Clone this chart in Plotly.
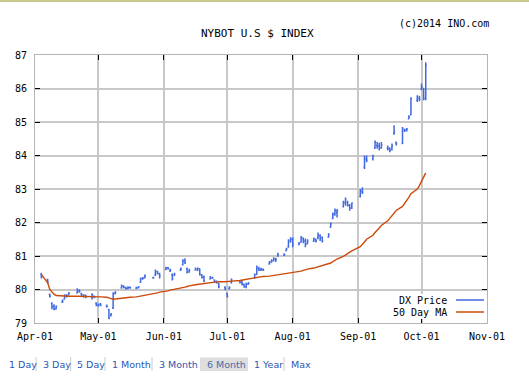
import plotly.graph_objects as go

# ---------------- data ----------------
dates = [
    # April 2014
    "2014-04-04", "2014-04-07", "2014-04-08", "2014-04-09", "2014-04-10", "2014-04-11",
    "2014-04-14", "2014-04-15", "2014-04-16", "2014-04-17", "2014-04-21", "2014-04-22",
    "2014-04-23", "2014-04-24", "2014-04-25", "2014-04-28", "2014-04-29", "2014-04-30",
    # May
    "2014-05-01", "2014-05-02", "2014-05-05", "2014-05-06", "2014-05-07", "2014-05-08",
    "2014-05-09", "2014-05-12", "2014-05-13", "2014-05-14", "2014-05-15", "2014-05-16",
    "2014-05-19", "2014-05-20", "2014-05-21", "2014-05-22", "2014-05-23", "2014-05-27",
    "2014-05-28", "2014-05-29", "2014-05-30",
    # June
    "2014-06-02", "2014-06-03", "2014-06-04", "2014-06-05", "2014-06-06", "2014-06-09",
    "2014-06-10", "2014-06-11", "2014-06-12", "2014-06-13", "2014-06-16", "2014-06-17",
    "2014-06-18", "2014-06-19", "2014-06-20", "2014-06-23", "2014-06-24", "2014-06-25",
    "2014-06-26", "2014-06-27", "2014-06-30",
    # July
    "2014-07-01", "2014-07-02", "2014-07-03", "2014-07-07", "2014-07-08", "2014-07-09",
    "2014-07-10", "2014-07-11", "2014-07-14", "2014-07-15", "2014-07-16", "2014-07-17",
    "2014-07-18", "2014-07-21", "2014-07-22", "2014-07-23", "2014-07-24", "2014-07-25",
    "2014-07-28", "2014-07-29", "2014-07-30", "2014-07-31",
    # August
    "2014-08-01", "2014-08-04", "2014-08-05", "2014-08-06", "2014-08-07", "2014-08-08",
    "2014-08-11", "2014-08-12", "2014-08-13", "2014-08-14", "2014-08-15", "2014-08-18",
    "2014-08-19", "2014-08-20", "2014-08-21", "2014-08-22", "2014-08-25", "2014-08-26",
    "2014-08-27", "2014-08-28", "2014-08-29",
    # September
    "2014-09-02", "2014-09-03", "2014-09-04", "2014-09-05", "2014-09-08", "2014-09-09",
    "2014-09-10", "2014-09-11", "2014-09-12", "2014-09-15", "2014-09-16", "2014-09-17",
    "2014-09-18", "2014-09-19", "2014-09-22", "2014-09-23", "2014-09-24", "2014-09-25",
    "2014-09-26", "2014-09-29", "2014-09-30",
    # October
    "2014-10-01", "2014-10-02", "2014-10-03",
]

opens = [
    80.45, 80.30, 79.85, 79.58, 79.50, 79.42, 79.62, 79.72, 79.80, 79.84, 79.90, 79.96,
    79.88, 79.80, 79.82, 79.76, 79.80, 79.60,
    79.52, 79.55, 79.50, 79.40, 79.22, 79.45, 79.88, 80.05, 80.10, 80.04, 80.03, 80.06,
    80.04, 80.05, 80.22, 80.32, 80.36, 80.34, 80.44, 80.52, 80.46,
    80.60, 80.64, 80.56, 80.45, 80.42, 80.58, 80.74, 80.86, 80.62, 80.52, 80.58, 80.58,
    80.62, 80.43, 80.38, 80.32, 80.34, 80.28, 80.24, 80.18, 80.06,
    79.88, 80.02, 80.20, 80.26, 80.22, 80.16, 80.08, 80.16, 80.34, 80.45, 80.62, 80.58,
    80.60, 80.76, 80.82, 80.86, 80.88, 81.00, 81.02, 81.16, 81.28, 81.42,
    81.50, 81.34, 81.42, 81.52, 81.45, 81.36, 81.44, 81.48, 81.55, 81.60, 81.55, 81.56,
    81.86, 82.12, 82.25, 82.30, 82.48, 82.58, 82.60, 82.50, 82.45,
    82.78, 82.92, 83.65, 83.88, 83.90, 84.22, 84.30, 84.28, 84.24, 84.22, 84.20, 84.18,
    84.66, 84.38, 84.36, 84.74, 84.76, 85.10, 85.22, 85.65, 85.70,
    85.98, 86.00, 85.70,
]

highs = [
    80.50, 80.32, 79.88, 79.62, 79.56, 79.52, 79.70, 79.86, 79.86, 79.92, 80.04, 80.01,
    79.90, 79.86, 79.85, 79.89, 79.82, 79.62,
    79.58, 79.60, 79.55, 79.42, 79.30, 79.92, 79.95, 80.15, 80.13, 80.08, 80.10, 80.09,
    80.08, 80.10, 80.36, 80.37, 80.45, 80.38, 80.60, 80.56, 80.50,
    80.68, 80.67, 80.62, 80.48, 80.50, 80.66, 80.90, 80.93, 80.66, 80.62, 80.66, 80.66,
    80.63, 80.46, 80.42, 80.40, 80.38, 80.30, 80.27, 80.20, 80.10,
    79.90, 80.10, 80.33, 80.28, 80.27, 80.18, 80.20, 80.22, 80.48, 80.72, 80.68, 80.65,
    80.63, 80.85, 80.90, 80.96, 80.95, 81.10, 81.08, 81.25, 81.50, 81.56,
    81.56, 81.42, 81.60, 81.55, 81.52, 81.50, 81.55, 81.52, 81.70, 81.65, 81.58, 81.68,
    82.00, 82.30, 82.42, 82.40, 82.65, 82.75, 82.65, 82.55, 82.60,
    83.00, 83.05, 84.00, 84.00, 84.02, 84.45, 84.40, 84.38, 84.40, 84.30, 84.25, 84.36,
    84.90, 84.42, 84.85, 84.80, 84.82, 85.20, 85.74, 85.80, 85.78,
    86.15, 86.02, 86.78,
]

lows = [
    80.33, 80.18, 79.76, 79.41, 79.38, 79.40, 79.60, 79.70, 79.76, 79.82, 79.88, 79.90,
    79.80, 79.76, 79.74, 79.70, 79.74, 79.50,
    79.49, 79.50, 79.46, 79.11, 79.20, 79.42, 79.85, 80.02, 80.04, 80.00, 80.01, 80.02,
    80.01, 80.03, 80.20, 80.29, 80.33, 80.32, 80.40, 80.45, 80.33,
    80.58, 80.60, 80.52, 80.27, 80.40, 80.55, 80.72, 80.76, 80.48, 80.50, 80.57, 80.55,
    80.42, 80.33, 80.22, 80.30, 80.32, 80.20, 80.18, 80.04, 79.98,
    79.76, 80.00, 80.18, 80.18, 80.12, 80.05, 80.04, 80.14, 80.32, 80.44, 80.55, 80.55,
    80.55, 80.75, 80.80, 80.84, 80.82, 80.98, 81.00, 81.15, 81.25, 81.40,
    81.26, 81.32, 81.40, 81.38, 81.26, 81.35, 81.42, 81.40, 81.50, 81.45, 81.40, 81.55,
    81.85, 82.10, 82.20, 82.15, 82.45, 82.50, 82.48, 82.35, 82.40,
    82.75, 82.85, 83.60, 83.80, 83.85, 84.20, 84.20, 84.15, 84.20, 84.15, 84.10, 84.15,
    84.62, 84.30, 84.34, 84.70, 84.72, 85.08, 85.20, 85.60, 85.62,
    85.95, 85.65, 85.65,
]

closes = [
    80.38, 80.22, 79.80, 79.47, 79.42, 79.50, 79.66, 79.80, 79.82, 79.90, 79.96, 79.94,
    79.84, 79.82, 79.78, 79.84, 79.77, 79.52,
    79.55, 79.53, 79.49, 79.15, 79.26, 79.88, 79.92, 80.10, 80.06, 80.03, 80.06, 80.05,
    80.05, 80.08, 80.32, 80.34, 80.42, 80.36, 80.55, 80.48, 80.40,
    80.64, 80.62, 80.58, 80.32, 80.46, 80.62, 80.86, 80.80, 80.52, 80.58, 80.62, 80.63,
    80.45, 80.36, 80.26, 80.35, 80.34, 80.24, 80.22, 80.08, 80.02,
    79.80, 80.06, 80.28, 80.22, 80.16, 80.08, 80.16, 80.20, 80.45, 80.64, 80.60, 80.61,
    80.58, 80.80, 80.86, 80.92, 80.90, 81.05, 81.04, 81.22, 81.45, 81.50,
    81.35, 81.38, 81.55, 81.45, 81.35, 81.44, 81.50, 81.45, 81.62, 81.55, 81.45, 81.64,
    81.96, 82.25, 82.36, 82.35, 82.60, 82.68, 82.52, 82.42, 82.58,
    82.95, 82.90, 83.92, 83.86, 83.98, 84.40, 84.28, 84.22, 84.32, 84.20, 84.15, 84.30,
    84.70, 84.35, 84.80, 84.76, 84.78, 85.16, 85.70, 85.72, 85.68,
    86.05, 85.70, 86.70,
]

ma50 = [
    80.45, 80.20, 80.00, 79.92, 79.86, 79.82, 79.80, 79.80, 79.80, 79.80, 79.80, 79.80,
    79.80, 79.80, 79.80, 79.80, 79.80, 79.79,
    79.79, 79.78, 79.77, 79.76, 79.73, 79.71, 79.72, 79.74, 79.74, 79.75, 79.76, 79.77,
    79.78, 79.79, 79.81, 79.82, 79.83, 79.86, 79.88, 79.90, 79.92,
    79.94, 79.96, 79.98, 79.99, 80.01, 80.03, 80.05, 80.07, 80.09, 80.11, 80.14, 80.15,
    80.17, 80.18, 80.19, 80.20, 80.21, 80.22, 80.22, 80.23, 80.23,
    80.24, 80.24, 80.25, 80.27, 80.28, 80.30, 80.32, 80.33, 80.35, 80.36, 80.37, 80.38,
    80.39, 80.40, 80.41, 80.42, 80.43, 80.44, 80.45, 80.46, 80.47, 80.49,
    80.50, 80.53, 80.55, 80.57, 80.59, 80.61, 80.64, 80.66, 80.68, 80.70, 80.72, 80.76,
    80.79, 80.83, 80.87, 80.91, 80.99, 81.03, 81.07, 81.11, 81.15,
    81.28, 81.34, 81.42, 81.50, 81.62, 81.70, 81.77, 81.84, 81.91, 82.05, 82.12, 82.20,
    82.28, 82.36, 82.48, 82.56, 82.65, 82.75, 82.86, 83.00, 83.10,
    83.24, 83.36, 83.48,
]

title_text = "NYBOT U.S $ INDEX"
credit_text = "(c)2014 INO.com"
legend_names = ["DX Price", "50 Day MA"]
buttons = ["1 Day", "3 Day", "5 Day", "1 Month", "3 Month", "6 Month", "1 Year", "Max"]
active_button = "6 Month"
y_range = [79, 87]
x_range = ["2014-04-01", "2014-11-01"]

# ---------------- layout geometry / styles ----------------
W, H = 529, 379
ML, MR, MT, MB = 35, 42, 55, 56
PW = W - ML - MR
PH = H - MT - MB


def px(x):
    return (x - ML) / PW


def py(y):
    return (H - MB - y) / PH


BLUE = "#4169e1"
ORANGE = "#cc4a0a"
GRID = "#c8c8c8"
AXLINE = "#b4b4b4"
MONO = "DejaVu Sans Mono"
SANS = "DejaVu Sans"
BTN = "#2b56b3"

fig = go.Figure()
fig.add_trace(go.Ohlc(
    x=dates, open=opens, high=highs, low=lows, close=closes,
    increasing=dict(line=dict(color=BLUE, width=1.5)),
    decreasing=dict(line=dict(color=BLUE, width=1.5)),
    tickwidth=0.5, name=legend_names[0], showlegend=False, hoverinfo="skip",
))
fig.add_trace(go.Scatter(
    x=dates, y=ma50, mode="lines", line=dict(color=ORANGE, width=1.4),
    name=legend_names[1], showlegend=False, hoverinfo="skip",
))

axis_common = dict(
    showline=True, linecolor=AXLINE, linewidth=1, mirror="ticks",
    ticks="inside", ticklen=5, tickcolor="black", tickwidth=1,
    showgrid=True, gridcolor=GRID, gridwidth=2, zeroline=False,
    tickfont=dict(family=MONO, size=10, color="black"),
    fixedrange=True,
)

fig.update_layout(
    width=W, height=H,
    margin=dict(l=ML, r=MR, t=MT, b=MB, pad=0),
    paper_bgcolor="white", plot_bgcolor="white",
    showlegend=False,
    xaxis=dict(type="date", range=x_range, dtick="M1", tick0="2014-04-01",
               tickformat="%b-%d", rangeslider=dict(visible=False),
               ticklabelstandoff=4, **axis_common),
    yaxis=dict(range=y_range, dtick=1, ticklabelstandoff=5, **axis_common),
)

shapes = []
annotations = []

# thin olive rule at the very top
shapes.append(dict(type="line", xref="paper", yref="paper", x0=px(0), x1=px(W),
                   y0=py(1), y1=py(1), line=dict(color="#c8c890", width=2)))

# title and credit
annotations.append(dict(text=title_text, xref="paper", yref="paper", x=px(257), y=py(33),
                        xanchor="center", yanchor="middle", showarrow=False,
                        font=dict(family=MONO, size=11, color="black")))
annotations.append(dict(text=credit_text, xref="paper", yref="paper", x=px(397), y=py(23),
                        xanchor="left", yanchor="middle", showarrow=False,
                        font=dict(family=MONO, size=10, color="black")))

# legend (text on the left, line sample on the right)
shapes.append(dict(type="rect", xref="paper", yref="paper", x0=px(390), x1=px(486),
                   y0=py(319), y1=py(294), fillcolor="white", line=dict(width=0)))
for name, color, yy in [(legend_names[0], BLUE, 300), (legend_names[1], ORANGE, 312)]:
    annotations.append(dict(text=name, xref="paper", yref="paper", x=px(449), y=py(yy),
                            xanchor="right", yanchor="middle", showarrow=False,
                            font=dict(family=MONO, size=10, color="black")))
    shapes.append(dict(type="line", xref="paper", yref="paper", x0=px(456), x1=px(484),
                       y0=py(yy), y1=py(yy), line=dict(color=color, width=1.5)))

# period buttons under the chart
btn_left = [6.7, 40.7, 75, 110, 157, 204.7, 252, 288.7]
sep_x = [36, 70.7, 105, 152, 284]
BTN_Y = 364
for label, xl in zip(buttons, btn_left):
    if label == active_button:
        shapes.append(dict(type="rect", xref="paper", yref="paper", x0=px(200), x1=px(248),
                           y0=py(371), y1=py(357.5), fillcolor="#dedede", line=dict(width=0)))
    annotations.append(dict(text=label, xref="paper", yref="paper", x=px(xl), y=py(BTN_Y),
                            xanchor="left", yanchor="middle", showarrow=False,
                            font=dict(family=SANS, size=9.5,
                                      color="#4a6aa8" if label == active_button else BTN)))
for sx in sep_x:
    shapes.append(dict(type="line", xref="paper", yref="paper", x0=px(sx), x1=px(sx),
                       y0=py(371), y1=py(357), line=dict(color="#cccccc", width=1)))

fig.update_layout(shapes=shapes, annotations=annotations)
fig.write_html("out.html",
               config={"displayModeBar": False, "staticPlot": True},
               post_script="document.body.style.margin='0';document.body.style.overflow='hidden';")
